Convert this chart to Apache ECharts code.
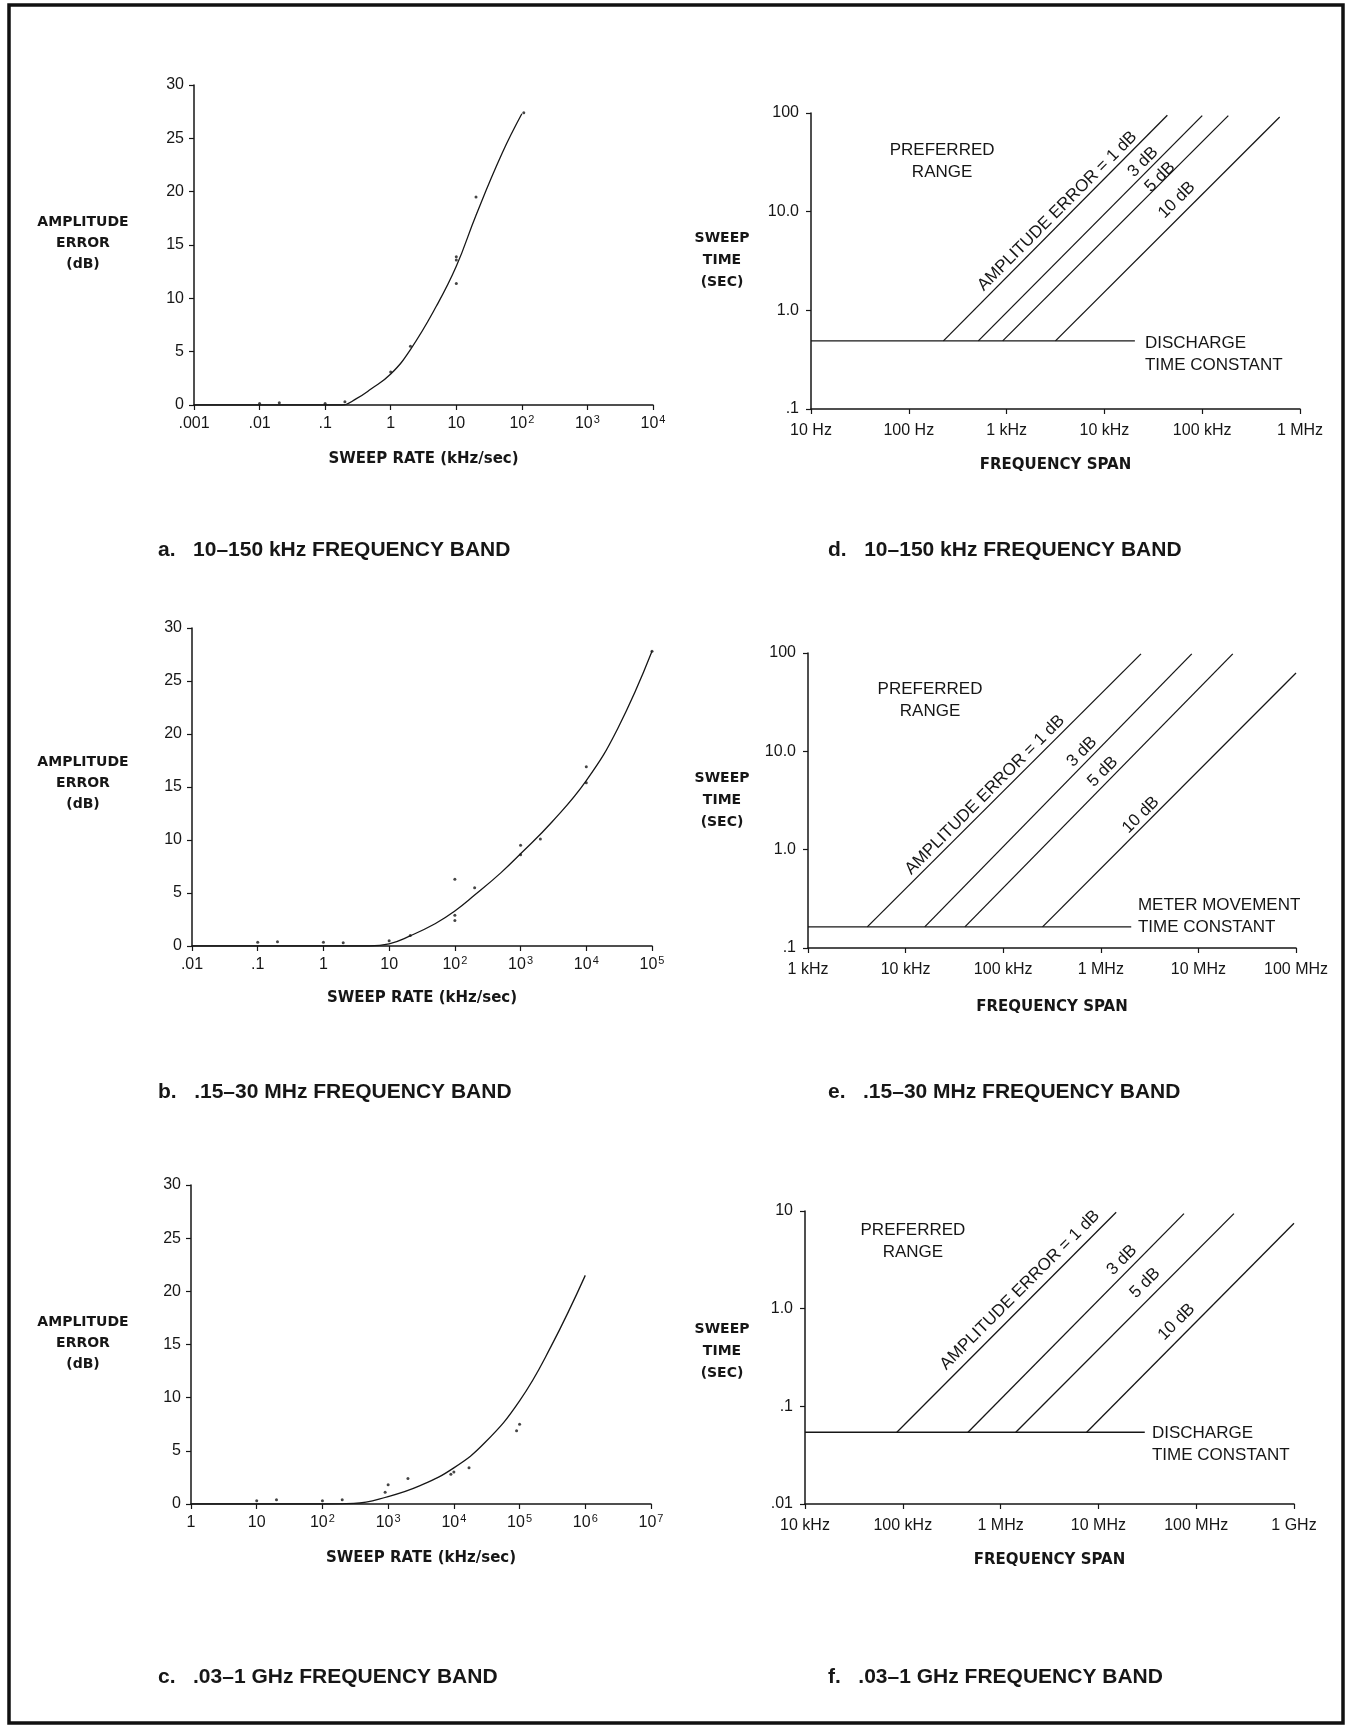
<!DOCTYPE html>
<html><head><meta charset="utf-8">
<script src="https://cdn.jsdelivr.net/npm/echarts@6/dist/echarts.min.js"></script>
<style>html,body{margin:0;padding:0;background:#fff}#c{width:1351px;height:1725px}</style>
</head><body><div id="c"></div>
<script>
// ---------------- DATA ----------------
// a: 10-150 kHz band, amplitude error vs sweep rate
const aCurve  = [[0.001,0],[0.1,0],[0.18,0],[0.3,0.6],[0.5,1.5],[1,2.9],[2,5.2],[5,9.3],[10,13.0],[20,17.8],[50,23.6],[100,27.3]];
const aPoints = [[0.01,0.15],[0.02,0.2],[0.1,0.15],[0.2,0.3],[1,3.1],[2,5.5],[10,13.9],[10,13.6],[10,11.4],[20,19.5],[107,27.4]];
// b: .15-30 MHz band
const bCurve  = [[0.01,0],[5,0],[10,0.2],[20,0.9],[50,2.1],[100,3.3],[200,4.8],[500,6.9],[1000,8.7],[3000,11.7],[10000,15.6],[30000,20.5],[100000,27.8]];
const bPoints = [[0.1,0.35],[0.2,0.4],[1,0.35],[2,0.3],[10,0.5],[21,1.0],[100,6.3],[100,2.9],[100,2.4],[200,5.5],[1000,9.5],[1000,8.6],[2000,10.1],[10000,16.9],[10000,15.4],[100000,27.8]];
// c: .03-1 GHz band
const cCurve  = [[1,0],[100,0],[300,0.05],[1000,0.7],[3000,1.7],[10000,3.4],[30000,5.8],[100000,9.7],[300000,14.8],[1000000,21.5]];
const cPoints = [[10,0.3],[20,0.4],[100,0.3],[200,0.4],[900,1.1],[1000,1.8],[2000,2.4],[9000,2.8],[10000,3.0],[17000,3.4],[90000,6.9],[100000,7.5]];

// tick labels
const aXTicks = ['.001','.01','.1','1','10','10^2','10^3','10^4'];
const bXTicks = ['.01','.1','1','10','10^2','10^3','10^4','10^5'];
const cXTicks = ['1','10','10^2','10^3','10^4','10^5','10^6','10^7'];
const errYTicks = [0,5,10,15,20,25,30];
const dXTicks = ['10 Hz','100 Hz','1 kHz','10 kHz','100 kHz','1 MHz'];
const dYTicks = ['.1','1.0','10.0','100'];
const eXTicks = ['1 kHz','10 kHz','100 kHz','1 MHz','10 MHz','100 MHz'];
const eYTicks = ['.1','1.0','10.0','100'];
const fXTicks = ['10 kHz','100 kHz','1 MHz','10 MHz','100 MHz','1 GHz'];
const fYTicks = ['.01','.1','1.0','10'];

// d: sweep time vs frequency span (10-150 kHz band)
const dFloor = [[10,0.49],[20500,0.49]];
const d1dB  = [[226,0.49],[44000,95]];
const d3dB  = [[514,0.49],[100000,94]];
const d5dB  = [[912,0.49],[185000,94]];
const d10dB = [[3160,0.49],[620000,91]];
// e: .15-30 MHz band
const eFloor = [[1000,0.164],[2050000,0.164]];
const e1dB  = [[4050,0.164],[2580000,98]];
const e3dB  = [[15700,0.164],[8550000,98]];
const e5dB  = [[40500,0.164],[22500000,98]];
const e10dB = [[253000,0.164],[100000000,62.6]];
// f: .03-1 GHz band
const fFloor = [[10000,0.0543],[29800000,0.0543]];
const f1dB  = [[86900,0.0543],[15200000,9.7]];
const f3dB  = [[464000,0.0543],[75000000,9.4]];
const f5dB  = [[1430000,0.0543],[243000000,9.4]];
const f10dB = [[7580000,0.0543],[1000000000,7.5]];

// texts
const captions = ['a.   10\u2013150 kHz FREQUENCY BAND','b.   .15\u201330 MHz FREQUENCY BAND','c.   .03\u20131 GHz FREQUENCY BAND',
                  'd.   10\u2013150 kHz FREQUENCY BAND','e.   .15\u201330 MHz FREQUENCY BAND','f.   .03\u20131 GHz FREQUENCY BAND'];
const lineLabels = ['AMPLITUDE ERROR = 1 dB','3 dB','5 dB','10 dB'];
// annotation anchors in data coordinates [x, y]
const dNotes = {pref:[219,32.6], floor:[26000,0.36], lab:[[3300,10.1],[24800,31.8],[37000,22.4],[55000,13.1]]};
const eNotes = {pref:[17800,33.3], floor:[2400000,0.209], lab:[[65000,3.6],[641000,9.9],[1050000,6.2],[2570000,2.25]]};
const fNotes = {pref:[127000,4.9], floor:[35300000,0.041], lab:[[1580000,1.55],[17400000,3.14],[30000000,1.83],[63000000,0.73]]};
const floorNames = ['DISCHARGE\nTIME CONSTANT','METER MOVEMENT\nTIME CONSTANT','DISCHARGE\nTIME CONSTANT'];

// ---------------- CHART ----------------
const FONT = "'Liberation Sans', Arial, Helvetica, sans-serif";
const BOLD = "'DejaVu Sans', 'Liberation Sans', sans-serif";
const INK = '#161616';

const grids = [
  {left:194, top:85,   width:459, height:320},
  {left:192, top:628,  width:460, height:318},
  {left:191, top:1185, width:460, height:319},
  {left:811, top:113,  width:489, height:296},
  {left:808, top:653,  width:488, height:295},
  {left:805, top:1211, width:489, height:293}
];

function fmtLog(labels, min) {
  const e0 = Math.round(Math.log10(min));
  return v => {
    const s = labels[Math.round(Math.log10(v)) - e0];
    if (s == null) return '';
    if (s.indexOf('^') >= 0) { const p = s.split('^'); return '{b|' + p[0] + '}{s|' + p[1] + '}'; }
    return '{b|' + s + '}';
  };
}
const rich = {b:{fontSize:16, fontFamily:FONT, color:INK, lineHeight:20},
              s:{fontSize:11, fontFamily:FONT, color:INK, verticalAlign:'top', lineHeight:20, padding:[0,0,0,1]}};
const axLine = {show:true, onZero:false, lineStyle:{color:INK, width:1.5}};
const axTick = {show:true, length:5, lineStyle:{color:INK, width:1.2}};

function logAxis(gi, min, max, labels, margin) {
  return {type:'log', logBase:10, gridIndex:gi, min:min, max:max,
    axisLine:axLine, axisTick:axTick, splitLine:{show:false}, minorTick:{show:false},
    axisLabel:{show:true, margin:margin, color:INK, fontFamily:FONT, fontSize:16, formatter:fmtLog(labels,min), rich:rich,
      showMinLabel:true, showMaxLabel:true, hideOverlap:false}};
}
function errAxis(gi) {
  return {type:'value', gridIndex:gi, min:errYTicks[0], max:errYTicks[errYTicks.length-1], interval:errYTicks[1]-errYTicks[0],
    axisLine:axLine, axisTick:axTick, splitLine:{show:false},
    axisLabel:{margin:10, color:INK, fontFamily:FONT, fontSize:16}};
}

const xAxis = [
  logAxis(0, 1e-3, 1e4, aXTicks, 9),
  logAxis(1, 1e-2, 1e5, bXTicks, 9),
  logAxis(2, 1, 1e7, cXTicks, 9),
  logAxis(3, 10, 1e6, dXTicks, 12),
  logAxis(4, 1e3, 1e8, eXTicks, 12),
  logAxis(5, 1e4, 1e9, fXTicks, 12)
];
const yAxis = [
  errAxis(0), errAxis(1), errAxis(2),
  logAxis(3, 0.1, 100, dYTicks, 12),
  logAxis(4, 0.1, 100, eYTicks, 12),
  logAxis(5, 0.01, 10, fYTicks, 12)
];

const series = [];
const lineStyle = {color:INK, width:1.3};
function addLine(gi, data, smooth) {
  series.push({type:'line', xAxisIndex:gi, yAxisIndex:gi, data:data, smooth:smooth ? 0.45 : false,
    showSymbol:false, symbol:'none', lineStyle:lineStyle, z:3, silent:true});
  return series.length - 1;
}
function addPoints(gi, data) {
  series.push({type:'scatter', xAxisIndex:gi, yAxisIndex:gi, data:data, symbol:'circle', symbolSize:3,
    itemStyle:{color:INK}, z:4, silent:true});
}
const firstSeries = [];
firstSeries.push(addLine(0, aCurve, true)); addPoints(0, aPoints);
firstSeries.push(addLine(1, bCurve, true)); addPoints(1, bPoints);
firstSeries.push(addLine(2, cCurve, true)); addPoints(2, cPoints);
[[dFloor,d1dB,d3dB,d5dB,d10dB],[eFloor,e1dB,e3dB,e5dB,e10dB],[fFloor,f1dB,f3dB,f5dB,f10dB]].forEach((set, k) => {
  const gi = 3 + k;
  firstSeries.push(addLine(gi, set[0], false));
  for (let i = 1; i < set.length; i++) addLine(gi, set[i], false);
});

const chart = echarts.init(document.getElementById('c'), null, {renderer:'canvas'});
chart.setOption({
  animation:false, backgroundColor:'#ffffff',
  grid: grids.map(g => Object.assign({containLabel:false, outerBoundsMode:'none'}, g)),
  xAxis: xAxis, yAxis: yAxis, series: series
});

// ---------------- TEXT / FRAME ----------------
const gfx = [];
gfx.push({type:'rect', shape:{x:9, y:5, width:1334, height:1718}, style:{fill:'none', stroke:'#111', lineWidth:3.5}, z:100, silent:true});
function txt(x, y, text, o) {
  o = o || {};
  gfx.push({type:'text', x:x, y:y, rotation:o.rot || 0, z:50, silent:true,
    style:{text:text, fill:INK, font:o.font || ('16px ' + FONT), textAlign:o.align || 'center', textVerticalAlign:'middle',
      lineHeight:o.lh || 21}});
}
// captions
const capX = [158, 158, 158, 828, 828, 828];
const capY = [550, 1092, 1677, 550, 1092, 1677];
captions.forEach((c, i) => txt(capX[i], capY[i], c, {align:'left', font:'bold 21px ' + FONT}));
// axis names
[243, 783, 1343].forEach(y => txt(83, y, 'AMPLITUDE\nERROR\n(dB)', {font:'bold 14px ' + BOLD, lh:21}));
[260, 800, 1351].forEach(y => txt(722, y, 'SWEEP\nTIME\n(SEC)', {font:'bold 14px ' + BOLD, lh:22}));
[459, 998, 1558].forEach((y, i) => txt(grids[i].left + grids[i].width / 2, y, 'SWEEP RATE (kHz/sec)', {font:'bold 15px ' + BOLD}));
[465, 1007, 1560].forEach((y, i) => txt(grids[3+i].left + grids[3+i].width / 2, y, 'FREQUENCY SPAN', {font:'bold 15px ' + BOLD}));
// in-plot notes (anchored in data space)
[dNotes, eNotes, fNotes].forEach((n, k) => {
  const si = firstSeries[3 + k];
  const p = chart.convertToPixel({seriesIndex:si}, n.pref);
  txt(p[0], p[1], 'PREFERRED\nRANGE', {font:'17px ' + FONT, lh:22});
  const q = chart.convertToPixel({seriesIndex:si}, n.floor);
  txt(q[0], q[1], floorNames[k], {font:'17px ' + FONT, align:'left', lh:22});
  n.lab.forEach((a, j) => {
    const r = chart.convertToPixel({seriesIndex:si}, a);
    txt(r[0], r[1], lineLabels[j], {font:'17px ' + FONT, rot:Math.PI / 4});
  });
});
chart.setOption({graphic: gfx});
</script>
</body></html>
